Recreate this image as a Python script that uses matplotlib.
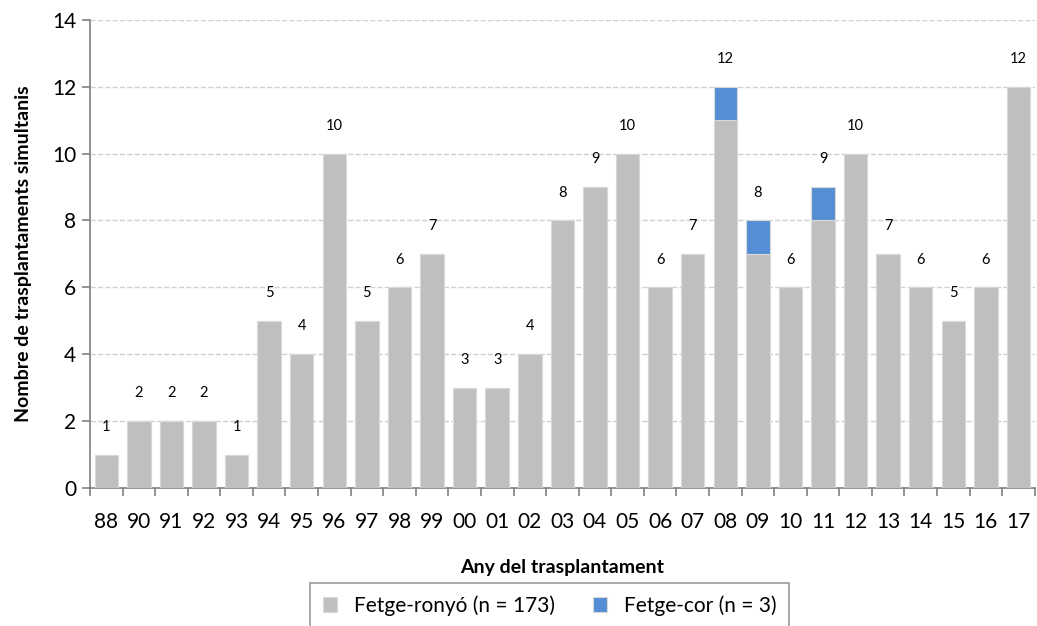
import matplotlib.pyplot as plt
import numpy as np

plt.rcParams['font.family'] = ['Lato', 'DejaVu Sans']

anys = ['88', '90', '91', '92', '93', '94', '95', '96', '97', '98', '99', '00', '01', '02',
        '03', '04', '05', '06', '07', '08', '09', '10', '11', '12', '13', '14', '15', '16', '17']
fetge_ronyo = [1, 2, 2, 2, 1, 5, 4, 10, 5, 6, 7, 3, 3, 4,
               8, 9, 10, 6, 7, 11, 7, 6, 8, 10, 7, 6, 5, 6, 12]
fetge_cor = [0, 0, 0, 0, 0, 0, 0, 0, 0, 0, 0, 0, 0, 0,
             0, 0, 0, 0, 0, 1, 1, 0, 1, 0, 0, 0, 0, 0, 0]

gris = '#BFBFBF'
blau = '#558ED5'

fig = plt.figure(figsize=(10.37, 6.26), dpi=100)
ax = fig.add_axes([0.0868, 0.2204, 0.911, 0.748])

x = np.arange(len(anys))
ax.bar(x, fetge_ronyo, width=0.72, color=gris, edgecolor='#D9D9D9', linewidth=0.8,
       label='Fetge-ronyó (n = 173)', zorder=3)
ax.bar(x, fetge_cor, width=0.72, bottom=fetge_ronyo, color=blau, edgecolor='#D9D9D9',
       linewidth=0.8, label='Fetge-cor (n = 3)', zorder=3)

totals = [a + b for a, b in zip(fetge_ronyo, fetge_cor)]
for xi, t in zip(x, totals):
    ax.annotate(str(t), (xi, t), xytext=(0, 20), textcoords='offset points',
                ha='center', va='center', fontsize=10.5, color='black')

ax.set_xlim(-0.5, len(anys) - 0.5)
ax.set_ylim(0, 14)
ax.set_yticks(range(0, 15, 2))
ax.tick_params(axis='y', labelsize=15, length=6, color='#808080', width=1.2, pad=4)
ax.set_xticks(x)
ax.set_xticklabels(anys, fontsize=15)
ax.tick_params(axis='x', length=0, pad=17)
ax.set_xticks(np.arange(-0.5, len(anys), 1), minor=True)
ax.tick_params(axis='x', which='minor', length=6, color='#808080', width=1.2)

ax.grid(axis='y', linestyle='--', color='#D0D0D0', linewidth=1, zorder=0)
for s in ['top', 'right']:
    ax.spines[s].set_visible(False)
for s in ['left', 'bottom']:
    ax.spines[s].set_color('#808080')
    ax.spines[s].set_linewidth(1.2)

ax.set_xlabel('Any del trasplantament', fontsize=14, fontweight='bold', labelpad=20)
ax.set_ylabel('Nombre de trasplantaments simultanis', fontsize=14, fontweight='bold', labelpad=14)

leg = fig.legend(loc='upper center', bbox_to_anchor=(0.53, 0.069), ncol=2, fontsize=15,
                 frameon=True, fancybox=False, edgecolor='#808080', handlelength=0.7,
                 handleheight=0.7, columnspacing=1.8, borderpad=0.6, borderaxespad=0)
leg.get_frame().set_linewidth(1.2)

fig.savefig('out.png', dpi=100)
